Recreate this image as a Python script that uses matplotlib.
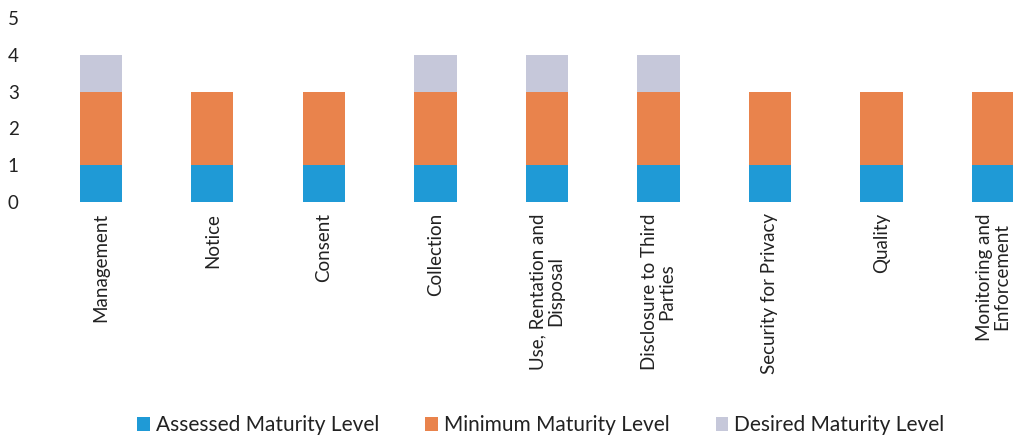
import matplotlib
matplotlib.use("Agg")
import matplotlib.pyplot as plt
import numpy as np

plt.rcParams['font.family'] = ['Lato', 'DejaVu Sans']

categories = ["Management", "Notice", "Consent", "Collection",
              "Use, Rentation and\nDisposal", "Disclosure to Third\nParties",
              "Security for Privacy", "Quality", "Monitoring and\nEnforcement"]
assessed = [1, 1, 1, 1, 1, 1, 1, 1, 1]
minimum = [2, 2, 2, 2, 2, 2, 2, 2, 2]
desired = [1, 0, 0, 1, 1, 1, 0, 0, 0]

c_assessed = "#1f9ad6"
c_minimum = "#e9834c"
c_desired = "#c6c8da"

fig = plt.figure(figsize=(10.13, 4.4), dpi=100)
# axis runs past the right edge, like the scanned original
ax = fig.add_axes([45/1013, (440-202)/440, 968/1013, 184/440])

x = np.arange(len(categories))
w = 0.38
ax.bar(x, assessed, w, color=c_assessed, label="Assessed Maturity Level")
ax.bar(x, minimum, w, bottom=assessed, color=c_minimum, label="Minimum Maturity Level")
bottom2 = np.array(assessed) + np.array(minimum)
ax.bar(x, desired, w, bottom=bottom2, color=c_desired, label="Desired Maturity Level")

ax.set_xlim(-0.5, 8.18)
ax.set_ylim(0, 5)
ax.set_yticks(range(6))
ax.tick_params(axis='y', length=0, labelsize=13.5, labelcolor="#222222", pad=19)
ax.set_xticks(x)
ax.set_xticklabels(categories, rotation=90, fontsize=13.5, color="#222222",
                   multialignment="center", va="top", ha="center", linespacing=1.0)
ax.tick_params(axis='x', length=0, pad=8)
for s in ax.spines.values():
    s.set_visible(False)

fig.legend(loc="lower center", bbox_to_anchor=(541/1013, -0.032), ncol=3,
           frameon=False, fontsize=15, handlelength=0.6, handleheight=0.6,
           handletextpad=0.3, columnspacing=2.2, labelcolor="#222222")

fig.savefig("out.png", dpi=100)
